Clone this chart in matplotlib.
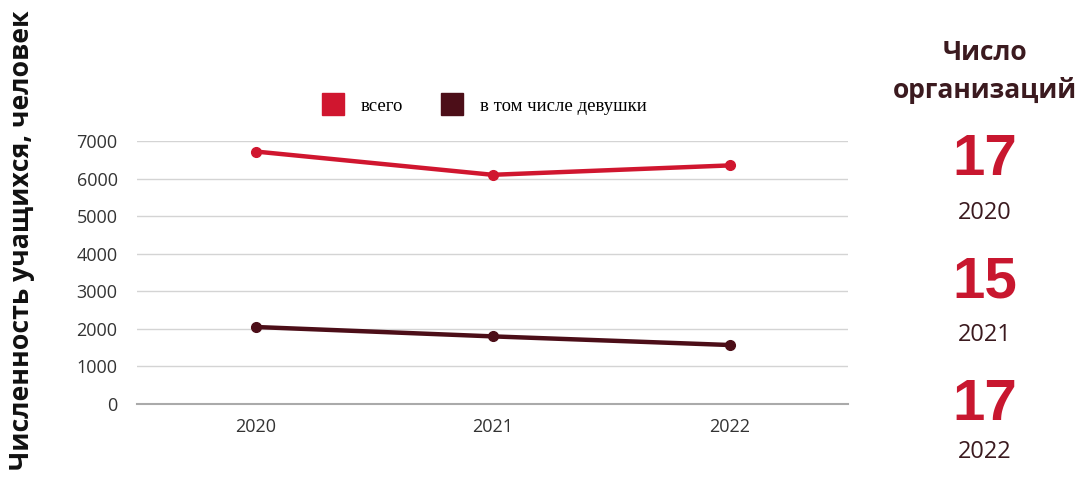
import matplotlib.pyplot as plt
from matplotlib.lines import Line2D

# data
years = ["2020", "2021", "2022"]
total = [6720, 6100, 6350]
girls = [2050, 1800, 1570]
org_counts = ["17", "15", "17"]
yticks = [0, 1000, 2000, 3000, 4000, 5000, 6000, 7000]

red = "#d0162f"
dark = "#4c0e18"
textdark = "#3b1a1f"

fig = plt.figure(figsize=(10.81, 4.86), dpi=100)
ax = fig.add_axes([0.1267, 0.1687, 0.658, 0.5412])

x = range(len(years))
ax.plot(x, total, color=red, lw=3.2, marker="o", ms=7, clip_on=False, zorder=3)
ax.plot(x, girls, color=dark, lw=3.2, marker="o", ms=7, clip_on=False, zorder=3)

ax.set_xlim(-0.5, 2.5)
ax.set_ylim(0, 7000)
ax.set_xticks(list(x))
ax.set_xticklabels(years)
ax.set_yticks(yticks)
ax.set_yticklabels([str(v) for v in yticks])
ax.tick_params(length=0, labelsize=13, colors="#333333", pad=14)
ax.tick_params(axis="x", pad=10)
for lab in ax.get_xticklabels() + ax.get_yticklabels():
    lab.set_family("Open Sans")

ax.grid(axis="y", color="#d4d4d4", lw=1)
ax.set_axisbelow(True)
for s in ["top", "right", "left"]:
    ax.spines[s].set_visible(False)
ax.spines["bottom"].set_color("#aaaaaa")
ax.spines["bottom"].set_linewidth(1.5)

# legend
handles = [Line2D([], [], ls="none", marker="s", ms=16, color=red),
           Line2D([], [], ls="none", marker="s", ms=16, color=dark)]
ax.legend(handles, ["всего", "в том числе девушки"], loc="lower center",
          bbox_to_anchor=(0.483, 1.036), ncol=2, frameon=False,
          prop={"family": "Liberation Serif", "size": 13.5},
          handletextpad=0.5, columnspacing=1.6)

bold_fam = ["Open Sans", "DejaVu Sans"]

# y label
fig.text(0.02, 0.505, "Численность учащихся, человек", rotation=90,
         ha="center", va="center", fontsize=19.2, fontweight="bold",
         family=bold_fam, color="#111111")

# right panel
cx = 0.911
fig.text(cx, 1 - 52 / 486, "Число", ha="center", va="center", fontsize=19,
         fontweight="bold", family=bold_fam, color=textdark)
fig.text(cx, 1 - 90 / 486, "организаций", ha="center", va="center", fontsize=19,
         fontweight="bold", family=bold_fam, color=textdark)
num_y = [160, 283, 405]
yr_y = [213, 335, 452]
for n, yr, ny, yy in zip(org_counts, years, num_y, yr_y):
    fig.text(cx, 1 - ny / 486, n, ha="center", va="center", fontsize=42,
             fontweight="bold", family="Liberation Sans", color="#c8172f")
    fig.text(cx, 1 - yy / 486, yr, ha="center", va="center", fontsize=17,
             family="Open Sans", color=textdark)

fig.savefig("out.png", dpi=100)
